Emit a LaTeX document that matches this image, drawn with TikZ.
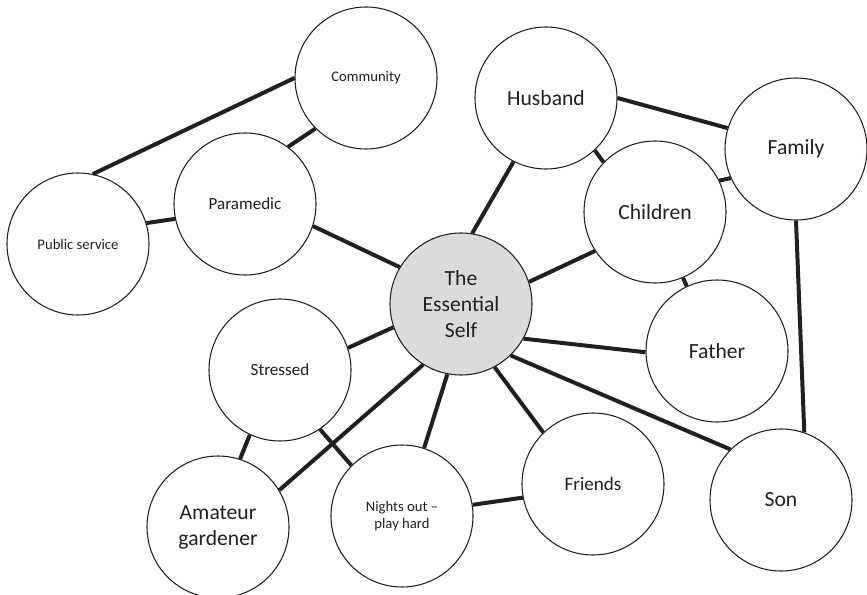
\documentclass[tikz,border=0pt]{standalone}
\usepackage{fontspec}
\setmainfont{Carlito}
\usetikzlibrary{positioning}
\definecolor{selfgray}{RGB}{218,219,221}
\definecolor{inkgray}{RGB}{35,31,32}

\begin{document}
\begin{tikzpicture}[
    x=0.75pt, y=-0.75pt,
    bubble/.style={circle, draw=inkgray, line width=0.8pt, fill=white,
                   minimum size=106.5pt, inner sep=0pt, align=center,
                   text=inkgray, font=\fontsize{16.2}{19.5}\selectfont},
    smallb/.style={bubble, font=\fontsize{11}{13}\selectfont},
    midb/.style={bubble, font=\fontsize{12.8}{15}\selectfont},
    selfb/.style={bubble, fill=selfgray},
    link/.style={line width=3pt, inkgray}
  ]
  \useasboundingbox (0,0) rectangle (867,595);

  %% Centre
  \node[selfb] (self) at (461,304) {The\\Essential\\Self};

  %% Work side
  \node[smallb] (community) at (366,78) {Community};
  \node[midb] (paramedic) at (245,204) {Paramedic};
  \node[smallb] (pubserv) at (78,244) {Public service};

  %% Family side
  \node[bubble] (husband) at (546,98) {Husband};
  \node[bubble] (family) at (796,149) {Family};
  \node[bubble] (children) at (655,212) {Children};
  \node[bubble] (father) at (717,351) {Father};
  \node[bubble] (son) at (781,500) {Son};

  %% Leisure side
  \node[midb] (stressed) at (280,370) {Stressed};
  \node[bubble] (gardener) at (218,527) {Amateur\\gardener};
  \node[smallb] (nights) at (402,516) {Nights out --\\play hard};
  \node[bubble, font=\fontsize{14.3}{17}\selectfont] (friends) at (593,484) {Friends};

  %% Links
  \foreach \a/\b in {community.180/pubserv.78, community.225/paramedic.53,
                     paramedic.192/pubserv.17, paramedic.342/self.149,
                     husband.243/self.81, husband.313/children.136,
                     husband.0/family.163, children.26/family.204,
                     children.213/self.18, children.293/father.115,
                     family.270/son.71, self.331/father.181,
                     self.314/son.135, self.298/friends.134,
                     self.259/nights.72, nights.9/friends.191,
                     stressed.18/self.199, self.238/gardener.31,
                     stressed.304/nights.135, stressed.245/gardener.72}{
    \draw[link] (\a) -- (\b);
  }

\end{tikzpicture}
\end{document}
